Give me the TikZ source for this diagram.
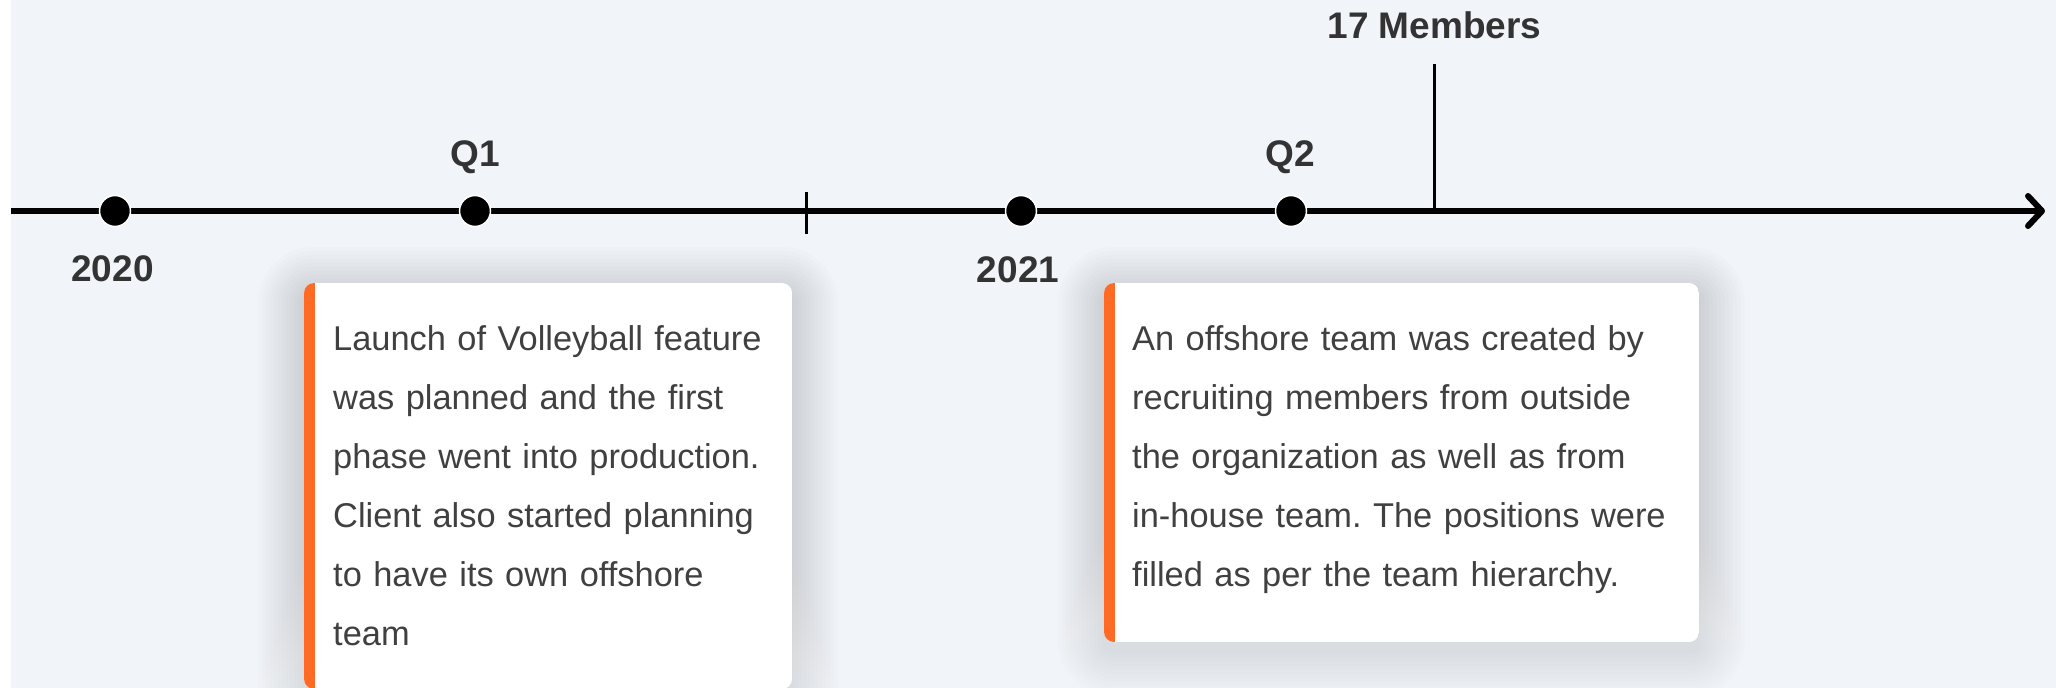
\documentclass[tikz,border=0pt]{standalone}
\usepackage{fontspec}
\setmainfont{Liberation Sans}
\usetikzlibrary{arrows.meta}
\definecolor{pagebg}{HTML}{F1F4F9}
\definecolor{labelgray}{HTML}{333333}
\definecolor{bodygray}{HTML}{404040}
\definecolor{accent}{HTML}{FF6B24}
\definecolor{shade}{HTML}{8A93A8}
\newcommand{\card}[4]{%
    \foreach \e in {2,6,...,46}
        \fill[shade, opacity=0.009, rounded corners=10pt+\e pt] (#1-\e,#2-\e+10) rectangle (#3+\e,#4+\e+10);
    \begin{scope}
        \clip[rounded corners=10pt] (#1,#2) rectangle (#3,#4);
        \fill[white] (#1,#2) rectangle (#3,#4);
        \fill[accent] (#1,#2) rectangle (#1+11,#4);
    \end{scope}}

\begin{document}
\frenchspacing
\begin{tikzpicture}[x=1pt,y=-1pt]
                        \tikzstyle{tag}=[font=\fontsize{37}{44}\selectfont\bfseries, text=labelgray, anchor=base, inner sep=0pt]
                        \tikzstyle{dot}=[circle, fill=black, draw=white, line width=1.5pt, minimum size=31pt, inner sep=0pt]
                        \tikzstyle{note}=[font=\fontsize{34.4}{59}\selectfont, text=bodygray, anchor=base west, inner sep=0pt, align=left]
                        \tikzstyle{axis}=[line width=6pt, -{Straight Barb[length=14pt, width=30pt, round]}]
                        \tikzstyle{mark line}=[line width=3pt]
                        \useasboundingbox (0,0) rectangle (2056,688);
                        \fill[white] (0,0) rectangle (11,688);
                        \fill[pagebg] (11,0) rectangle (2056,688);
                        \card{304}{283}{792}{689}
                        \card{1104}{283}{1699}{642}
                        \coordinate (start) at (11,211);
                        \coordinate (end) at (2045,211);
                        \coordinate (tickTop) at (806,192);
                        \coordinate (tickBot) at (806,234);
                        \coordinate (membersTop) at (1434,64);
                        \coordinate (membersFoot) at (1434,211);
                        \draw[axis] (start) -- (end);
                        \draw[mark line] (tickTop) -- (tickBot);
                        \draw[mark line] (membersTop) -- (membersFoot);
                        \node[dot] (d2020) at (115,211) {};
                        \node[dot] (dQ1) at (475,211) {};
                        \node[dot] (d2021) at (1021,211) {};
                        \node[dot] (dQ2) at (1291,211) {};
                        \node[tag] (members) at (1434.5,38) {17 Members};
                        \node[tag] (q1) at (475,166) {Q1};
                        \node[tag] (q2) at (1290,166) {Q2};
                        \node[tag] (y2020) at (112.5,281) {2020};
                        \node[tag] (y2021) at (1018,282) {2021};
                        \node[note, text width=440pt] (noteQ1) at (333,350) {Launch of Volleyball feature\\
                            was planned and the first\\
                            phase went into production.\\
                            Client also started planning\\
                            to have its own offshore\\
                            team};
                        \node[note, text width=540pt] (noteQ2) at (1132,350) {An offshore team was created by\\
                            recruiting members from outside\\
                            the organization as well as from\\
                            in-house team. The positions were\\
                            filled as per the team hierarchy.};
\end{tikzpicture}
\end{document}
